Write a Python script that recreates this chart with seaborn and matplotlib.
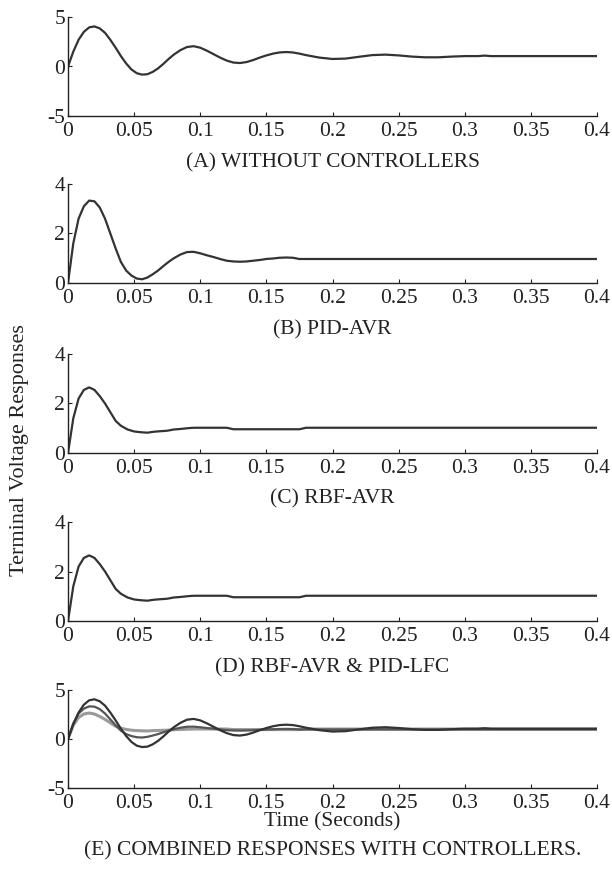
import numpy as np
import pandas as pd
import matplotlib
matplotlib.use("Agg")
import matplotlib.pyplot as plt
import seaborn as sns

# --- DATA ---
t_a = [0, 0.004, 0.008, 0.012, 0.016, 0.02, 0.024, 0.028, 0.032, 0.036, 0.04,
       0.044, 0.048, 0.052, 0.056, 0.06, 0.064, 0.068, 0.072, 0.076, 0.08,
       0.085, 0.09, 0.095, 0.1, 0.105, 0.11, 0.115, 0.12, 0.125, 0.13, 0.135,
       0.14, 0.145, 0.15, 0.155, 0.16, 0.165, 0.17, 0.175, 0.18, 0.19, 0.2,
       0.21, 0.22, 0.23, 0.24, 0.25, 0.26, 0.27, 0.28, 0.29, 0.3, 0.31, 0.315,
       0.32, 0.4]
v_a = [0, 1.5, 2.7, 3.5, 3.95, 4.05, 3.85, 3.4, 2.7, 1.9, 1.05,
       0.3, -0.3, -0.68, -0.82, -0.78, -0.55, -0.2, 0.25, 0.75, 1.2,
       1.65, 1.97, 2.05, 1.9, 1.6, 1.25, 0.9, 0.6, 0.4, 0.35, 0.45,
       0.65, 0.9, 1.12, 1.3, 1.42, 1.46, 1.42, 1.3, 1.15, 0.9, 0.76,
       0.8, 0.98, 1.15, 1.2, 1.12, 1.0, 0.93, 0.93, 1.0, 1.05, 1.05, 1.1,
       1.05, 1.05]

t_b = [0, 0.004, 0.008, 0.012, 0.016, 0.02, 0.024, 0.028, 0.032, 0.036, 0.04,
       0.044, 0.048, 0.052, 0.056, 0.06, 0.064, 0.068, 0.072, 0.076, 0.08,
       0.085, 0.09, 0.095, 0.1, 0.105, 0.11, 0.115, 0.12, 0.125, 0.13, 0.135,
       0.14, 0.145, 0.15, 0.155, 0.16, 0.165, 0.17, 0.175, 0.4]
v_b = [0, 1.6, 2.6, 3.1, 3.33, 3.3, 3.05, 2.6, 2.0, 1.4, 0.85,
       0.5, 0.3, 0.18, 0.15, 0.22, 0.35, 0.5, 0.68, 0.85, 1.0,
       1.15, 1.25, 1.26, 1.2, 1.12, 1.05, 0.97, 0.9, 0.87, 0.86, 0.87,
       0.9, 0.93, 0.97, 0.99, 1.02, 1.03, 1.02, 0.97, 0.97]

t_c = [0, 0.004, 0.008, 0.012, 0.016, 0.02, 0.024, 0.028, 0.032, 0.036, 0.04,
       0.045, 0.05, 0.055, 0.06, 0.065, 0.07, 0.075, 0.08, 0.085, 0.09, 0.095,
       0.12, 0.125, 0.175, 0.18, 0.4]
v_c = [0, 1.4, 2.2, 2.55, 2.65, 2.55, 2.3, 2.0, 1.65, 1.3, 1.1,
       0.95, 0.87, 0.84, 0.82, 0.86, 0.88, 0.9, 0.95, 0.97, 1.0, 1.02,
       1.02, 0.96, 0.96, 1.02, 1.02]

t_d = t_c
v_d = v_c

panel_titles = ["(A) WITHOUT CONTROLLERS", "(B) PID-AVR", "(C) RBF-AVR",
                "(D) RBF-AVR & PID-LFC", "(E) COMBINED RESPONSES WITH CONTROLLERS."]
y_ranges = [(-5, 5), (0, 4), (0, 4), (0, 4), (-5, 5)]
y_ticks = [[-5, 0, 5], [0, 2, 4], [0, 2, 4], [0, 2, 4], [-5, 0, 5]]
x_ticks = [0, 0.05, 0.1, 0.15, 0.2, 0.25, 0.3, 0.35, 0.4]
x_ticklabels = ["0", "0.05", "0.1", "0.15", "0.2", "0.25", "0.3", "0.35", "0.4"]

df_a = pd.DataFrame({"t": t_a, "v": v_a})
df_b = pd.DataFrame({"t": t_b, "v": v_b})
df_c = pd.DataFrame({"t": t_c, "v": v_c})
df_d = pd.DataFrame({"t": t_d, "v": v_d})

# --- STYLE ---
sns.set_style("ticks")
plt.rcParams["font.family"] = ["Liberation Serif", "DejaVu Serif"]
plt.rcParams["axes.unicode_minus"] = False
plt.rcParams["xtick.direction"] = "in"
plt.rcParams["ytick.direction"] = "in"

W, H = 612, 871
fig = plt.figure(figsize=(W / 100, H / 100), dpi=100)

# axes boxes in pixels: (top, bottom)
boxes = [(17, 116), (184, 283), (354, 453), (522, 621), (690, 788)]
title_y = [163, 330, 499, 668, 851]
left, right = 68, 597

dark = "#333333"
axes = []
for i, (top, bot) in enumerate(boxes):
    ax = fig.add_axes([left / W, 1 - bot / H, (right - left) / W, (bot - top) / H])
    axes.append(ax)

sns.lineplot(data=df_a, x="t", y="v", ax=axes[0], color=dark, lw=1.6)
sns.lineplot(data=df_b, x="t", y="v", ax=axes[1], color=dark, lw=1.6)
sns.lineplot(data=df_c, x="t", y="v", ax=axes[2], color=dark, lw=1.6)
sns.lineplot(data=df_d, x="t", y="v", ax=axes[3], color=dark, lw=1.6)
sns.lineplot(data=df_c, x="t", y="v", ax=axes[4], color="#9a9a9a", lw=2.2)
sns.lineplot(data=df_b, x="t", y="v", ax=axes[4], color="#555555", lw=1.6)
sns.lineplot(data=df_a, x="t", y="v", ax=axes[4], color=dark, lw=1.6)

for i, ax in enumerate(axes):
    ax.set_xlim(0, 0.4)
    ax.set_ylim(*y_ranges[i])
    ax.set_xticks(x_ticks)
    ax.set_xticklabels(x_ticklabels)
    ax.set_yticks(y_ticks[i])
    ax.tick_params(labelsize=15.5, length=3, width=0.8, colors="#222222")
    ax.tick_params(axis="x", pad=4)
    ax.tick_params(axis="y", pad=2)
    for s in ["top", "right"]:
        ax.spines[s].set_visible(False)
    for s in ["left", "bottom"]:
        ax.spines[s].set_linewidth(1.0)
        ax.spines[s].set_color("#222222")
    ax.set_xlabel("")
    ax.set_ylabel("")
    fig.text(0.5 * (left + right) / W, 1 - title_y[i] / H, panel_titles[i],
             ha="center", va="center", fontsize=15.5, color="#222222")

axes[4].set_xlabel("Time (Seconds)", fontsize=15.5, labelpad=0, color="#222222")
fig.text(20 / W, 1 - 450 / H, "Terminal Voltage Responses", rotation=90,
         ha="center", va="center", fontsize=16, color="#222222")

fig.savefig("out.png", dpi=100)
